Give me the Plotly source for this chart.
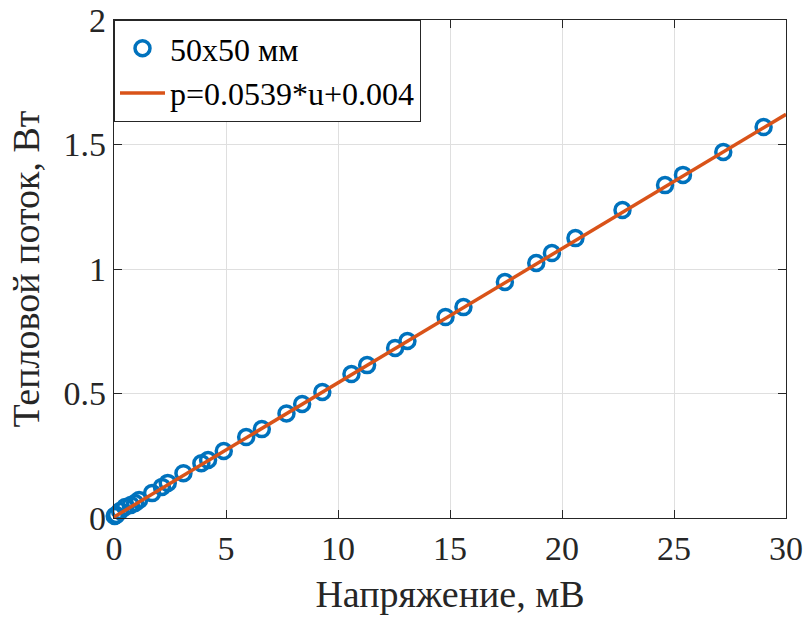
import numpy as np
import plotly.graph_objects as go

u_mV = [0.03, 0.1, 0.27, 0.5, 0.75, 0.94, 1.12, 1.7, 2.14, 2.4, 3.1, 3.9, 4.2, 4.9,
        5.9, 6.6, 7.7, 8.4, 9.3, 10.6, 11.3, 12.55, 13.1, 14.8, 15.6, 17.45, 18.85,
        19.55, 20.6, 22.7, 24.6, 25.4, 27.2, 29.0]
p_W = [0.008, 0.012, 0.028, 0.044, 0.052, 0.060, 0.072, 0.100, 0.125, 0.141, 0.180,
       0.220, 0.233, 0.269, 0.325, 0.357, 0.420, 0.458, 0.506, 0.578, 0.614, 0.683,
       0.711, 0.807, 0.847, 0.948, 1.024, 1.064, 1.124, 1.237, 1.337, 1.378, 1.470, 1.570]
fit_slope = 0.0539
fit_intercept = 0.004
fit_range = [0, 30]

x_ticks = [0, 5, 10, 15, 20, 25, 30]
y_ticks = [0, 0.5, 1, 1.5, 2]
y_tick_labels = ["0", "0.5", "1", "1.5", "2"]

fx = np.array(fit_range, dtype=float)
fy = fit_slope * fx + fit_intercept

font = "Liberation Serif"

fig = go.Figure()
fig.add_trace(go.Scatter(
    x=u_mV, y=p_W, mode="markers", name="50x50 мм", cliponaxis=False,
    marker=dict(symbol="circle-open", size=15, color="#0072BD",
                line=dict(width=3.5, color="#0072BD")),
))
fig.add_trace(go.Scatter(
    x=fx, y=fy, mode="lines", name="p=0.0539*u+0.004",
    line=dict(color="#D95319", width=3.5),
))

axis_common = dict(
    showline=True, linecolor="#262626", linewidth=1.3, mirror="ticks",
    ticks="inside", ticklen=8, tickwidth=1.3, tickcolor="#262626",
    showgrid=True, gridcolor="#DFDFDF", gridwidth=1, automargin=False,
    zeroline=False, tickfont=dict(family=font, size=34, color="#262626"),
)

fig.update_layout(
    width=807, height=621,
    margin=dict(l=114, r=21, t=20, b=103),
    paper_bgcolor="white", plot_bgcolor="white",
    font=dict(family=font, color="#262626"),
    showlegend=True,
    legend=dict(x=0, y=1, xanchor="left", yanchor="top",
                bgcolor="white", bordercolor="#262626", borderwidth=1,
                font=dict(family=font, size=32, color="#000000"),
                tracegroupgap=0, itemwidth=45),
    xaxis=dict(range=[0, 30], tickvals=x_ticks,
               title=dict(text="Напряжение, мВ", font=dict(family=font, size=38, color="#262626"), standoff=14),
               **axis_common),
    yaxis=dict(range=[0, 2], tickvals=y_ticks, ticktext=y_tick_labels,
               title=dict(text="Тепловой поток, Вт", font=dict(family=font, size=38, color="#262626"), standoff=12),
               **axis_common),
)

fig.write_html("out.html")
